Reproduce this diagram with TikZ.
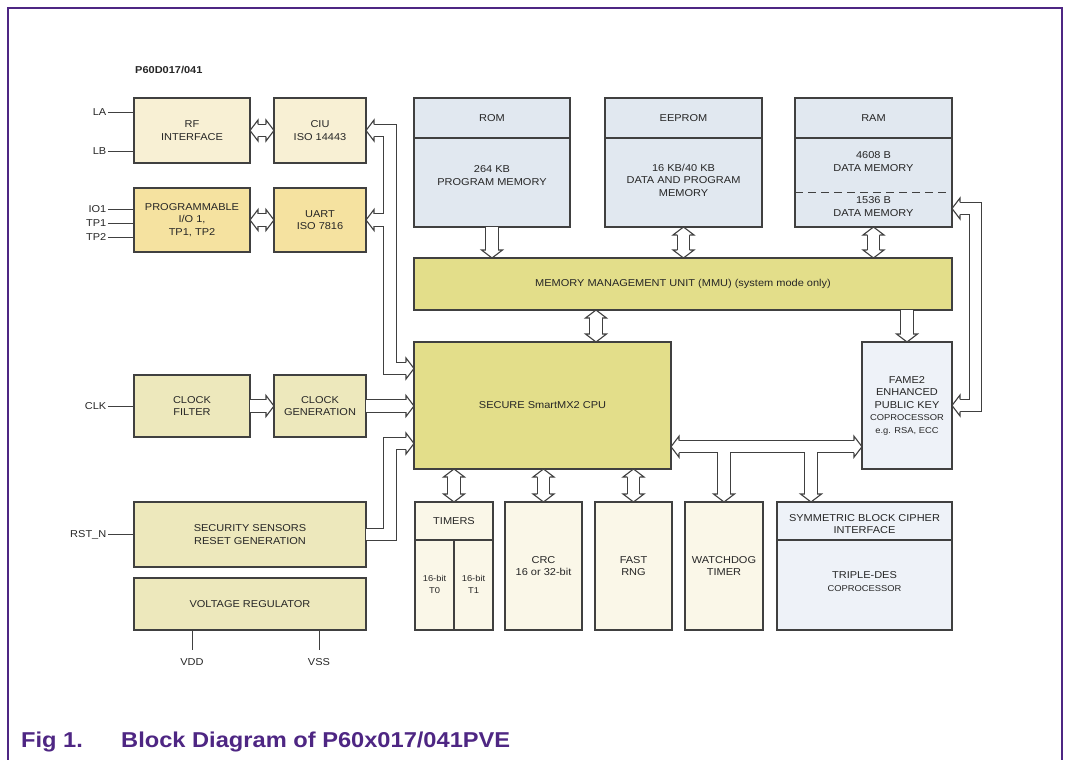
\documentclass[tikz,border=0pt]{standalone}
\usepackage{fontspec}
\setmainfont{Liberation Sans}[FakeStretch=1.1]
\usetikzlibrary{calc,positioning}

\definecolor{cream}{RGB}{248,240,212}
\definecolor{ochre}{RGB}{245,226,160}
\definecolor{khaki}{RGB}{237,232,188}
\definecolor{olive}{RGB}{227,222,138}
\definecolor{memblue}{RGB}{225,232,240}
\definecolor{paleblue}{RGB}{238,242,248}
\definecolor{ivory}{RGB}{250,247,232}
\definecolor{figpurple}{RGB}{78,38,131}
\definecolor{edge}{RGB}{64,64,64}
\newcommand{\smalltxt}{\fontsize{8.5}{12.5}\selectfont}

\begin{document}
\begin{tikzpicture}[x=1pt, y=-1pt]
	\tikzstyle{block} = [draw=edge, line width=1.1pt, rectangle, inner sep=0pt, outer sep=0pt, align=center, text=black!85, font=\fontsize{10}{12.5}\selectfont]
	\tikzstyle{txt} = [inner sep=0pt, align=center, text=black!85, font=\fontsize{10}{12.5}\selectfont]
	\tikzstyle{pinlbl} = [inner sep=1.5pt, text=black!85, font=\fontsize{10}{12}\selectfont]
	\tikzstyle{wire} = [draw=edge, line width=1pt]
	\tikzstyle{divider} = [draw=edge, line width=1.1pt]
	\tikzstyle{bus} = [draw=edge, line width=1.1pt, double=white, double distance=11.2pt, line join=miter]
	\tikzstyle{head} = [draw=edge, line width=1.1pt, fill=white, line join=miter]

	\useasboundingbox (0,0) rectangle (1068,760);
	\draw[figpurple, line width=1.3pt] (8,760) -- (8,8) -- (1062,8) -- (1062,760);

	\node[anchor=west, inner sep=0pt, text=black!85, font=\fontsize{10}{12}\bfseries] (title) at (135,70) {P60D017/041};

	% interfaces
	\node[block, fill=cream, minimum width=116pt, minimum height=65pt, anchor=north west] (rf) at (134,98) {RF\\INTERFACE};
	\node[block, fill=cream, minimum width=92pt, minimum height=65pt, right=24pt of rf] (ciu) {CIU\\ISO 14443};
	\node[block, fill=ochre, minimum width=116pt, minimum height=64pt, below=25pt of rf] (prog) {PROGRAMMABLE\\I/O 1,\\TP1, TP2};
	\node[block, fill=ochre, minimum width=92pt, minimum height=64pt, right=24pt of prog] (uart) {UART\\ISO 7816};
	\node[block, fill=khaki, minimum width=116pt, minimum height=62pt, anchor=north west] (cfilt) at (134,375) {CLOCK\\FILTER};
	\node[block, fill=khaki, minimum width=92pt, minimum height=62pt, right=24pt of cfilt] (cgen) {CLOCK\\GENERATION};
	\node[block, fill=khaki, minimum width=232pt, minimum height=65pt, anchor=north west] (secu) at (134,502) {SECURITY SENSORS\\RESET GENERATION};
	\node[block, fill=khaki, minimum width=232pt, minimum height=52pt, below=11pt of secu] (vreg) {VOLTAGE REGULATOR};

	% memories
	\node[block, fill=memblue, minimum width=156pt, minimum height=129pt, anchor=north west] (rom) at (414,98) {};
	\node[block, fill=memblue, minimum width=157pt, minimum height=129pt, right=35pt of rom] (eeprom) {};
	\node[block, fill=memblue, minimum width=157pt, minimum height=129pt, right=33pt of eeprom] (ram) {};
	\draw[divider] ($(rom.north west)+(0,40)$) -- ($(rom.north east)+(0,40)$);
	\draw[divider] ($(eeprom.north west)+(0,40)$) -- ($(eeprom.north east)+(0,40)$);
	\draw[divider] ($(ram.north west)+(0,40)$) -- ($(ram.north east)+(0,40)$);
	\draw[divider, dash pattern=on 8pt off 5pt] ($(ram.north west)+(0,94.5)$) -- ($(ram.north east)+(0,94.5)$);
	\node[txt] (romhd) at ($(rom.north)+(0,20)$) {ROM};
	\node[txt] (rombd) at ($(rom.north)+(0,77.5)$) {264 KB\\PROGRAM MEMORY};
	\node[txt] (eephd) at ($(eeprom.north)+(0,20)$) {EEPROM};
	\node[txt] (eepbd) at ($(eeprom.north)+(0,82)$) {16 KB/40 KB\\DATA AND PROGRAM\\MEMORY};
	\node[txt] (ramhd) at ($(ram.north)+(0,20)$) {RAM};
	\node[txt] (rambd) at ($(ram.north)+(0,63.5)$) {4608 B\\DATA MEMORY};
	\node[txt] (ramlo) at ($(ram.north)+(0,108.5)$) {1536 B\\DATA MEMORY};

	\node[block, fill=olive, minimum width=538pt, minimum height=52pt, anchor=north west] (mmu) at (414,258) {MEMORY MANAGEMENT UNIT (MMU) (system mode only)};
	\node[block, fill=olive, minimum width=257pt, minimum height=127pt, anchor=north west] (cpu) at (414,342) {SECURE SmartMX2 CPU};
	\node[block, fill=paleblue, minimum width=90pt, minimum height=127pt, anchor=north east] (fame) at (952,342) {FAME2\\ENHANCED\\PUBLIC KEY\\{\smalltxt COPROCESSOR}\\{\smalltxt e.g. RSA, ECC}};

	% peripherals
	\node[block, fill=ivory, minimum width=78pt, minimum height=128pt, anchor=north west] (tim) at (415,502) {};
	\node[block, fill=ivory, minimum width=77pt, minimum height=128pt, right=12pt of tim] (crc) {CRC\\16 or 32-bit};
	\node[block, fill=ivory, minimum width=77pt, minimum height=128pt, right=13pt of crc] (rng) {FAST\\RNG};
	\node[block, fill=ivory, minimum width=78pt, minimum height=128pt, right=13pt of rng] (wdt) {WATCHDOG\\TIMER};
	\node[block, fill=paleblue, minimum width=175pt, minimum height=128pt, right=14pt of wdt] (sym) {};
	\draw[divider] ($(tim.north west)+(0,38)$) -- ($(tim.north east)+(0,38)$);
	\draw[divider] ($(tim.north)+(0,38)$) -- (tim.south);
	\draw[divider] ($(sym.north west)+(0,38)$) -- ($(sym.north east)+(0,38)$);
	\node[txt] (timhd) at ($(tim.north)+(0,19)$) {TIMERS};
	\node[txt, font=\fontsize{8.5}{12.5}\selectfont] (tzero) at ($(tim.south)+(-19.5,-45.5)$) {16-bit\\T0};
	\node[txt, font=\fontsize{8.5}{12.5}\selectfont] (tone) at ($(tim.south)+(19.5,-45.5)$) {16-bit\\T1};
	\node[txt] (symhd) at ($(sym.north)+(0,22)$) {SYMMETRIC BLOCK CIPHER\\INTERFACE};
	\node[txt] (symbd) at ($(sym.north)+(0,79.5)$) {TRIPLE-DES\\{\smalltxt COPROCESSOR}};

	% pins
	\coordinate (laend) at ($(rf.north west)+(0,14)$);
	\coordinate (lbend) at ($(rf.south west)+(0,-12)$);
	\coordinate (ioend) at ($(prog.north west)+(0,21)$);
	\coordinate (tpaend) at ($(prog.north west)+(0,35.5)$);
	\coordinate (tpbend) at ($(prog.north west)+(0,49.5)$);
	\coordinate (vddend) at ($(vreg.south west)+(58,0)$);
	\coordinate (vssend) at ($(vreg.south west)+(185,0)$);
	\node[pinlbl, left=26pt of laend] (la) {LA};
	\node[pinlbl, left=26pt of lbend] (lb) {LB};
	\node[pinlbl, left=26pt of ioend] (io) {IO1};
	\node[pinlbl, left=26pt of tpaend] (tpa) {TP1};
	\node[pinlbl, left=26pt of tpbend] (tpb) {TP2};
	\node[pinlbl, left=26pt of cfilt] (clk) {CLK};
	\node[pinlbl, left=26pt of secu] (rstn) {RST\_N};
	\node[pinlbl, below=27pt of vddend] (vdd) {VDD};
	\node[pinlbl, below=27pt of vssend] (vss) {VSS};
	\draw[wire] (la) -- (laend);
	\draw[wire] (lb) -- (lbend);
	\draw[wire] (io) -- (ioend);
	\draw[wire] (tpa) -- (tpaend);
	\draw[wire] (tpb) -- (tpbend);
	\draw[wire] (clk) -- (cfilt);
	\draw[wire] (rstn) -- (secu);
	\draw[wire, shorten >=7pt] (vddend) -- (vdd);
	\draw[wire, shorten >=7pt] (vssend) -- (vss);

	% bus end points
	\coordinate (busx) at ($(ciu.east)+(24,0)$);
	\coordinate (cpuA) at ($(cpu.north west)+(0,26.5)$);
	\coordinate (cpuB) at (cgen.east -| cpu.west);
	\coordinate (cpuC) at ($(cpu.south west)+(0,-25.5)$);
	\coordinate (romin) at (rom.south |- mmu.north);
	\coordinate (eepin) at (eeprom.south |- mmu.north);
	\coordinate (ramin) at (ram.south |- mmu.north);
	\coordinate (mmuout) at ($(mmu.south west)+(182,0)$);
	\coordinate (cpuin) at (mmuout |- cpu.north);
	\coordinate (mmufa) at (fame.north |- mmu.south);
	\coordinate (cpuE) at ($(cpu.south east)+(0,-22.3)$);
	\coordinate (fameW) at (cpuE -| fame.west);
	\coordinate (symin) at ($(sym.north west)+(34,0)$);
	\coordinate (timout) at (cpu.south -| tim.north);
	\coordinate (crcout) at (cpu.south -| crc.north);
	\coordinate (rngout) at (cpu.south -| rng.north);
	\coordinate (ramE) at ($(ram.south east)+(0,-18.5)$);
	\coordinate (rbusx) at ($(ram.east)+(23.5,0)$);

	% buses
	\draw[bus] ($(rf.east)+(8,0)$) -- ($(ciu.west)+(-8,0)$)
		($(prog.east)+(8,0)$) -- ($(uart.west)+(-8,0)$)
		($(ciu.east)+(8,0)$) -- (busx) -- (busx |- cpuA) -- ($(cpuA)+(-8,0)$)
		($(uart.east)+(8,0)$) -- (busx |- uart.east)
		(secu.east) -- (busx |- secu.east) -- (busx |- cpuC) -- ($(cpuC)+(-8,0)$)
		(cfilt.east) -- ($(cgen.west)+(-8,0)$)
		(cgen.east) -- ($(cpuB)+(-8,0)$)
		(rom.south) -- ($(romin)+(0,-8)$)
		($(eeprom.south)+(0,8)$) -- ($(eepin)+(0,-8)$)
		($(ram.south)+(0,8)$) -- ($(ramin)+(0,-8)$)
		($(mmuout)+(0,8)$) -- ($(cpuin)+(0,-8)$)
		(mmufa) -- ($(fame.north)+(0,-8)$)
		($(cpuE)+(8,0)$) -- ($(fameW)+(-8,0)$)
		(wdt.north |- cpuE) -- ($(wdt.north)+(0,-8)$)
		(symin |- cpuE) -- ($(symin)+(0,-8)$)
		($(timout)+(0,8)$) -- ($(tim.north)+(0,-8)$)
		($(crcout)+(0,8)$) -- ($(crc.north)+(0,-8)$)
		($(rngout)+(0,8)$) -- ($(rng.north)+(0,-8)$)
		($(ramE)+(8,0)$) -- (rbusx |- ramE) -- (rbusx |- fame.east) -- ($(fame.east)+(8,0)$);

	% bus heads
	\draw[head] ($(rf.east)+(8,-6.2)$) -- ++(0,-4.3) -- (rf.east) -- ++(8,10.5) -- ++(0,-4.3);
	\draw[head] ($(ciu.west)+(-8,-6.2)$) -- ++(0,-4.3) -- (ciu.west) -- ++(-8,10.5) -- ++(0,-4.3);
	\draw[head] ($(prog.east)+(8,-6.2)$) -- ++(0,-4.3) -- (prog.east) -- ++(8,10.5) -- ++(0,-4.3);
	\draw[head] ($(uart.west)+(-8,-6.2)$) -- ++(0,-4.3) -- (uart.west) -- ++(-8,10.5) -- ++(0,-4.3);
	\draw[head] ($(ciu.east)+(8,-6.2)$) -- ++(0,-4.3) -- (ciu.east) -- ++(8,10.5) -- ++(0,-4.3);
	\draw[head] ($(uart.east)+(8,-6.2)$) -- ++(0,-4.3) -- (uart.east) -- ++(8,10.5) -- ++(0,-4.3);
	\draw[head] ($(cpuA)+(-8,-6.2)$) -- ++(0,-4.3) -- (cpuA) -- ++(-8,10.5) -- ++(0,-4.3);
	\draw[head] ($(cgen.west)+(-8,-6.2)$) -- ++(0,-4.3) -- (cgen.west) -- ++(-8,10.5) -- ++(0,-4.3);
	\draw[head] ($(cpuB)+(-8,-6.2)$) -- ++(0,-4.3) -- (cpuB) -- ++(-8,10.5) -- ++(0,-4.3);
	\draw[head] ($(cpuC)+(-8,-6.2)$) -- ++(0,-4.3) -- (cpuC) -- ++(-8,10.5) -- ++(0,-4.3);
	\draw[head] ($(romin)+(-6.2,-8)$) -- ++(-4.3,0) -- (romin) -- ++(10.5,-8) -- ++(-4.3,0);
	\draw[head] ($(eeprom.south)+(-6.2,8)$) -- ++(-4.3,0) -- (eeprom.south) -- ++(10.5,8) -- ++(-4.3,0);
	\draw[head] ($(eepin)+(-6.2,-8)$) -- ++(-4.3,0) -- (eepin) -- ++(10.5,-8) -- ++(-4.3,0);
	\draw[head] ($(ram.south)+(-6.2,8)$) -- ++(-4.3,0) -- (ram.south) -- ++(10.5,8) -- ++(-4.3,0);
	\draw[head] ($(ramin)+(-6.2,-8)$) -- ++(-4.3,0) -- (ramin) -- ++(10.5,-8) -- ++(-4.3,0);
	\draw[head] ($(mmuout)+(-6.2,8)$) -- ++(-4.3,0) -- (mmuout) -- ++(10.5,8) -- ++(-4.3,0);
	\draw[head] ($(cpuin)+(-6.2,-8)$) -- ++(-4.3,0) -- (cpuin) -- ++(10.5,-8) -- ++(-4.3,0);
	\draw[head] ($(fame.north)+(-6.2,-8)$) -- ++(-4.3,0) -- (fame.north) -- ++(10.5,-8) -- ++(-4.3,0);
	\draw[head] ($(cpuE)+(8,-6.2)$) -- ++(0,-4.3) -- (cpuE) -- ++(8,10.5) -- ++(0,-4.3);
	\draw[head] ($(fameW)+(-8,-6.2)$) -- ++(0,-4.3) -- (fameW) -- ++(-8,10.5) -- ++(0,-4.3);
	\draw[head] ($(wdt.north)+(-6.2,-8)$) -- ++(-4.3,0) -- (wdt.north) -- ++(10.5,-8) -- ++(-4.3,0);
	\draw[head] ($(symin)+(-6.2,-8)$) -- ++(-4.3,0) -- (symin) -- ++(10.5,-8) -- ++(-4.3,0);
	\draw[head] ($(timout)+(-6.2,8)$) -- ++(-4.3,0) -- (timout) -- ++(10.5,8) -- ++(-4.3,0);
	\draw[head] ($(tim.north)+(-6.2,-8)$) -- ++(-4.3,0) -- (tim.north) -- ++(10.5,-8) -- ++(-4.3,0);
	\draw[head] ($(crcout)+(-6.2,8)$) -- ++(-4.3,0) -- (crcout) -- ++(10.5,8) -- ++(-4.3,0);
	\draw[head] ($(crc.north)+(-6.2,-8)$) -- ++(-4.3,0) -- (crc.north) -- ++(10.5,-8) -- ++(-4.3,0);
	\draw[head] ($(rngout)+(-6.2,8)$) -- ++(-4.3,0) -- (rngout) -- ++(10.5,8) -- ++(-4.3,0);
	\draw[head] ($(rng.north)+(-6.2,-8)$) -- ++(-4.3,0) -- (rng.north) -- ++(10.5,-8) -- ++(-4.3,0);
	\draw[head] ($(ramE)+(8,-6.2)$) -- ++(0,-4.3) -- (ramE) -- ++(8,10.5) -- ++(0,-4.3);
	\draw[head] ($(fame.east)+(8,-6.2)$) -- ++(0,-4.3) -- (fame.east) -- ++(8,10.5) -- ++(0,-4.3);

	% caption
	\node[anchor=base west, inner sep=0pt, text=figpurple, font=\fontsize{21.5}{24}\bfseries] (figno) at (21,747) {Fig 1.};
	\node[anchor=base west, inner sep=0pt, text=figpurple, font=\fontsize{21.5}{24}\bfseries] (figtitle) at (121,747) {Block Diagram of P60x017/041PVE};
\end{tikzpicture}
\end{document}
